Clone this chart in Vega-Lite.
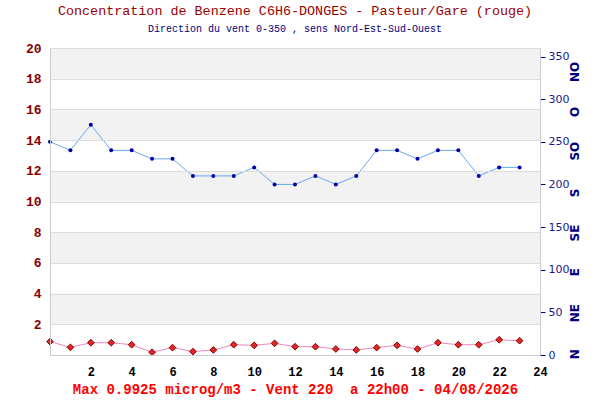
{
  "$schema": "https://vega.github.io/schema/vega-lite/v6.json",
  "autosize": {"type": "none"},
  "width": 490,
  "height": 307,
  "padding": {"left": 50, "top": 48, "right": 60, "bottom": 45},
  "background": "white",
  "title": {
    "text": "Concentration de Benzene C6H6-DONGES - Pasteur/Gare (rouge)",
    "subtitle": "Direction du vent 0-350 , sens Nord-Est-Sud-Ouest",
    "anchor": "middle",
    "font": "Liberation Mono",
    "fontSize": 13.4,
    "fontWeight": "normal",
    "color": "#990000",
    "subtitleFont": "Liberation Mono",
    "subtitleFontSize": 10,
    "subtitleColor": "#000080",
    "subtitlePadding": 7,
    "offset": 8
  },
  "datasets": {
    "mesures": [
      {"h": 0, "benzene": 0.87, "vent": 250},
      {"h": 1, "benzene": 0.5, "vent": 240},
      {"h": 2, "benzene": 0.8, "vent": 270},
      {"h": 3, "benzene": 0.8, "vent": 240},
      {"h": 4, "benzene": 0.67, "vent": 240},
      {"h": 5, "benzene": 0.18, "vent": 230},
      {"h": 6, "benzene": 0.48, "vent": 230},
      {"h": 7, "benzene": 0.22, "vent": 210},
      {"h": 8, "benzene": 0.33, "vent": 210},
      {"h": 9, "benzene": 0.67, "vent": 210},
      {"h": 10, "benzene": 0.63, "vent": 220},
      {"h": 11, "benzene": 0.76, "vent": 200},
      {"h": 12, "benzene": 0.54, "vent": 200},
      {"h": 13, "benzene": 0.54, "vent": 210},
      {"h": 14, "benzene": 0.39, "vent": 200},
      {"h": 15, "benzene": 0.33, "vent": 210},
      {"h": 16, "benzene": 0.48, "vent": 240},
      {"h": 17, "benzene": 0.63, "vent": 240},
      {"h": 18, "benzene": 0.39, "vent": 230},
      {"h": 19, "benzene": 0.8, "vent": 240},
      {"h": 20, "benzene": 0.67, "vent": 240},
      {"h": 21, "benzene": 0.67, "vent": 210},
      {"h": 22, "benzene": 0.9925, "vent": 220},
      {"h": 23, "benzene": 0.93, "vent": 220}
    ],
    "bandes": [
      {"bas": 2, "haut": 4},
      {"bas": 6, "haut": 8},
      {"bas": 10, "haut": 12},
      {"bas": 14, "haut": 16},
      {"bas": 18, "haut": 20}
    ],
    "directions": [
      {"dir": "N", "deg": 1},
      {"dir": "NE", "deg": 49},
      {"dir": "E", "deg": 97},
      {"dir": "SE", "deg": 143},
      {"dir": "S", "deg": 190},
      {"dir": "SO", "deg": 239},
      {"dir": "O", "deg": 285},
      {"dir": "NO", "deg": 332}
    ]
  },
  "layer": [
    {
      "data": {"name": "bandes"},
      "mark": {"type": "rect", "color": "#f2f2f2"},
      "encoding": {
        "y": {"field": "bas", "type": "quantitative", "scale": {"domain": [0, 20], "nice": false}, "axis": null},
        "y2": {"field": "haut"}
      }
    },
    {
      "data": {"name": "mesures"},
      "mark": {"type": "line", "color": "#f088c0", "strokeWidth": 1},
      "encoding": {
        "x": {
          "field": "h",
          "type": "quantitative",
          "scale": {"domain": [0, 24], "nice": false},
          "axis": {
            "values": [2, 4, 6, 8, 10, 12, 14, 16, 18, 20, 22, 24],
            "ticks": false,
            "domain": true,
            "domainColor": "#cccccc",
            "grid": false,
            "zindex": 1,
            "labelFlush": false,
            "labelBound": false,
            "labelFont": "Liberation Mono",
            "labelFontWeight": "bold",
            "labelFontSize": 12,
            "labelColor": "black",
            "labelPadding": 11,
            "title": "Max 0.9925 microg/m3 - Vent 220 \u00a0a 22h00 - 04/08/2026",
            "titleFont": "Liberation Mono",
            "titleFontSize": 14,
            "titleFontWeight": "bold",
            "titleColor": "#ff0000",
            "titlePadding": 5
          }
        },
        "y": {
          "field": "benzene",
          "type": "quantitative",
          "scale": {"domain": [0, 20], "nice": false},
          "axis": {
            "orient": "left",
            "values": [2, 4, 6, 8, 10, 12, 14, 16, 18, 20],
            "ticks": false,
            "domain": true,
            "domainColor": "#cccccc",
            "grid": true,
            "gridColor": "#dddddd",
            "zindex": 1,
            "labelFlush": false,
            "labelBound": false,
            "labelFont": "Liberation Mono",
            "labelFontWeight": "bold",
            "labelFontSize": 13,
            "labelColor": "#8b0000",
            "labelPadding": 9,
            "title": null
          }
        }
      }
    },
    {
      "data": {"name": "mesures"},
      "mark": {"type": "point", "shape": "diamond", "filled": true, "color": "#e02828", "stroke": "#8b0000", "strokeWidth": 1, "size": 45, "opacity": 1},
      "encoding": {
        "x": {"field": "h", "type": "quantitative"},
        "y": {"field": "benzene", "type": "quantitative", "scale": {"domain": [0, 20], "nice": false}, "axis": null}
      }
    },
    {
      "data": {"name": "mesures"},
      "mark": {"type": "line", "color": "#66aaee", "strokeWidth": 1},
      "encoding": {
        "x": {"field": "h", "type": "quantitative"},
        "y": {
          "field": "vent",
          "type": "quantitative",
          "scale": {"domain": [0, 360], "nice": false},
          "axis": {
            "orient": "right",
            "values": [0, 50, 100, 150, 200, 250, 300, 350],
            "domain": true,
            "domainColor": "#cccccc",
            "zindex": 1,
            "grid": false,
            "ticks": true,
            "tickSize": 5,
            "tickColor": "#000080",
            "labelFlush": false,
            "labelFont": "DejaVu Sans",
            "labelFontSize": 11,
            "labelColor": "#1a1a8c",
            "labelPadding": 3,
            "title": null
          }
        }
      }
    },
    {
      "data": {"name": "mesures"},
      "mark": {"type": "point", "shape": "circle", "filled": true, "color": "#0000aa", "size": 16, "opacity": 1},
      "encoding": {
        "x": {"field": "h", "type": "quantitative"},
        "y": {"field": "vent", "type": "quantitative", "scale": {"domain": [0, 360], "nice": false}, "axis": null}
      }
    },
    {
      "data": {"name": "directions"},
      "mark": {"type": "text", "angle": 270, "align": "center", "baseline": "middle", "font": "DejaVu Sans", "fontWeight": "bold", "fontSize": 12, "color": "#000080"},
      "encoding": {
        "x": {"datum": 25.7, "type": "quantitative"},
        "y": {"field": "deg", "type": "quantitative", "scale": {"domain": [0, 360], "nice": false}, "axis": null},
        "text": {"field": "dir"}
      }
    }
  ],
  "resolve": {"scale": {"y": "independent"}, "axis": {"y": "independent"}},
  "config": {
    "view": {"stroke": "#cccccc"},
    "axis": {"labelOverlap": false}
  }
}
